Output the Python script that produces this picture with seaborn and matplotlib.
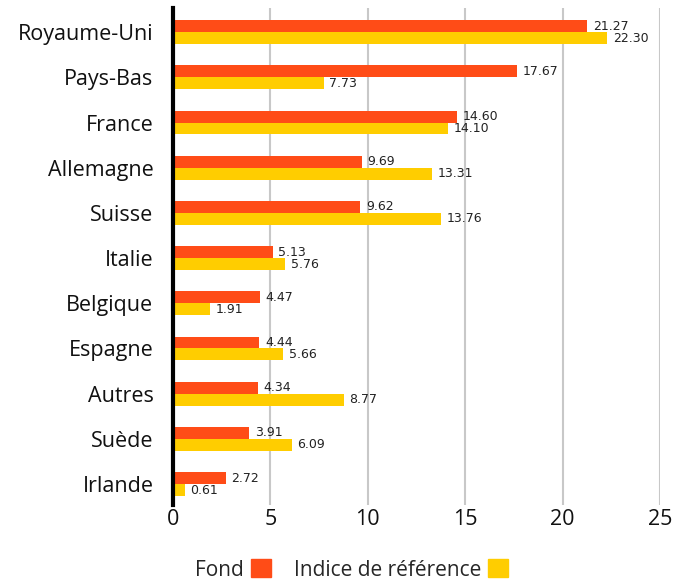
import matplotlib
matplotlib.use("Agg")
import matplotlib.pyplot as plt
import matplotlib.patches as mpatches
import seaborn as sns
import pandas as pd

# Data
countries = ["Royaume-Uni", "Pays-Bas", "France", "Allemagne", "Suisse",
             "Italie", "Belgique", "Espagne", "Autres", "Suède", "Irlande"]
fond = [21.27, 17.67, 14.60, 9.69, 9.62, 5.13, 4.47, 4.44, 4.34, 3.91, 2.72]
indice = [22.30, 7.73, 14.10, 13.31, 13.76, 5.76, 1.91, 5.66, 8.77, 6.09, 0.61]
series = ["Fond", "Indice de référence"]
colors = ["#FF4C17", "#FFCD00"]

df = pd.DataFrame({
    "Pays": countries * 2,
    "Valeur": fond + indice,
    "Serie": [series[0]] * len(countries) + [series[1]] * len(countries),
})

sns.set_style("white")
plt.rcParams["font.family"] = ["Open Sans", "DejaVu Sans"]

fig = plt.figure(figsize=(6.89, 5.83), dpi=100)
ax = fig.add_axes([0.251, 0.134, 0.707, 0.852])

sns.barplot(
    data=df, x="Valeur", y="Pays", hue="Serie",
    order=countries, hue_order=series,
    palette=colors, width=0.53, orient="h",
    saturation=1, legend=False, linewidth=0, ax=ax
)

for container in ax.containers:
    ax.bar_label(container, fmt="%.2f", padding=4, fontsize=9,
                 color="#222222", family="DejaVu Sans")

ax.set_xlim(0, 25)
ax.set_ylim(10.46, -0.53)
ax.set_xticks([0, 5, 10, 15, 20, 25])
ax.set_xlabel("")
ax.set_ylabel("")

ax.grid(axis="x", color="#c8c8c8", linewidth=1.5)
ax.grid(axis="y", visible=False)
ax.set_axisbelow(True)

for side in ["top", "right", "bottom"]:
    ax.spines[side].set_visible(False)
ax.spines["left"].set_color("black")
ax.spines["left"].set_linewidth(3)
ax.spines["left"].set_zorder(5)

ax.tick_params(axis="y", length=0, pad=14, labelsize=15.5, labelcolor="#111111")
ax.tick_params(axis="x", length=0, pad=3, labelsize=15.5, labelcolor="#111111")

handles = [mpatches.Patch(color=c, label=s) for c, s in zip(colors, series)]
fig.legend(
    handles=handles, loc="lower center", bbox_to_anchor=(0.51, -0.028),
    ncol=2, frameon=False, markerfirst=False, fontsize=15,
    handlelength=0.95, handleheight=0.95, handletextpad=0.35,
    columnspacing=1.1
)

plt.savefig("out.png", dpi=100)
